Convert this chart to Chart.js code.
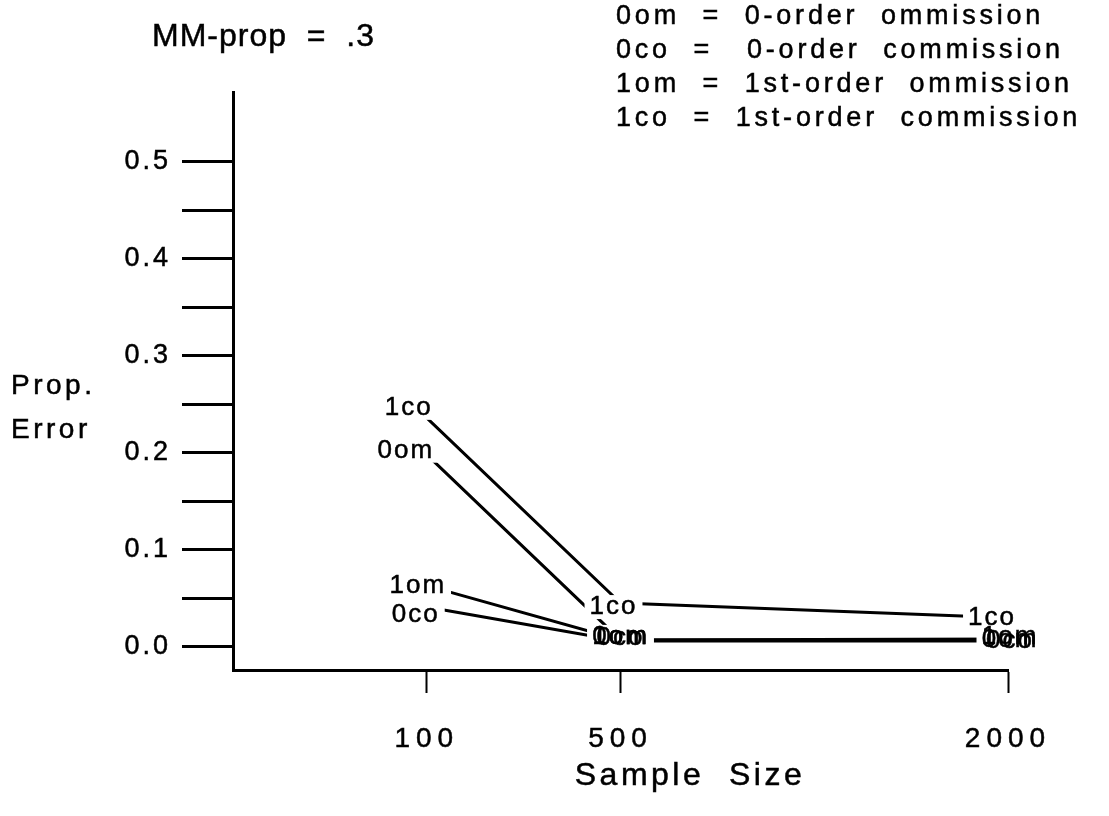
<!DOCTYPE html>
<html><head><meta charset="utf-8">
<script src="https://cdn.jsdelivr.net/npm/chart.js@4.4.1/dist/chart.umd.min.js"></script>
<style>html,body{margin:0;padding:0;background:#fff}#wrap{width:1109px;height:816px;position:relative}</style>
</head><body><div id="wrap"><canvas id="c" width="1109" height="816"></canvas></div>
<script>
// ---- data ----
const sampleSizes = ['', '100', '500', '', '2000'];
const seriesNames = ['0om', '0co', '1om', '1co'];
const err0om = [null, 0.198, 0.007, null, 0.007];
const err0co = [null, 0.041, 0.006, null, 0.006];
const err1om = [null, 0.063, 0.007, null, 0.008];
const err1co = [null, 0.236, 0.045, null, 0.030];
const yTickValues = [0, 0.05, 0.1, 0.15, 0.2, 0.25, 0.3, 0.35, 0.4, 0.45, 0.5];
const titleText = 'MM-prop  =  .3';
const keyLines = [
  '0om  =  0-order  ommission',
  '0co  =   0-order  commission',
  '1om  =  1st-order  ommission',
  '1co  =  1st-order  commission'
];
const yTitleLines = ['Prop.', 'Error'];
const xTitleText = 'Sample  Size';

const FONT = "'Liberation Sans', Arial, Helvetica, sans-serif";
const seriesData = [err0om, err0co, err1om, err1co];
// label nudges (style only, px): [dx, dy] per "series@slot"
const labelNudge = {
  '1co@1': [-18, -10], '0om@1': [-21, -4], '1om@1': [-9, 0], '0co@1': [-11, 8],
  '1co@2': [-7, 4], '0om@2': [0, -3], '0co@2': [0, -3], '1om@2': [0, -3],
  '1co@4': [-16, 0], '0om@4': [2, 0], '0co@4': [2, 0], '1om@4': [2, -2]
};

function drawText(ctx, t, x, y) {
  ctx.strokeText(t, x, y);
  ctx.fillText(t, x, y);
}

const textPlugin = {
  id: 'textPlugin',
  beforeDraw(chart) {
    const patch = (scale, sp) => {
      if (!scale || scale._lsPatched) return;
      const orig = scale.drawLabels;
      scale.drawLabels = function (a) {
        const c = this.ctx; const prev = c.letterSpacing;
        c.letterSpacing = sp; orig.call(this, a); c.letterSpacing = prev || '0px';
      };
      scale._lsPatched = true;
    };
    patch(chart.scales.x, '6px');
    patch(chart.scales.y, '3px');
  },
  afterDatasetsDraw(chart) {
    const ctx = chart.ctx;
    ctx.save();
    ctx.font = '26px ' + FONT;
    ctx.letterSpacing = '2px';
    ctx.textAlign = 'center';
    ctx.textBaseline = 'middle';
    ctx.strokeStyle = '#000';
    ctx.lineWidth = 0.5;
    const items = [];
    chart.data.datasets.forEach((ds, di) => {
      const meta = chart.getDatasetMeta(di);
      meta.data.forEach((pt, i) => {
        if (ds.data[i] == null) return;
        const n = labelNudge[ds.label + '@' + i] || [0, 0];
        items.push({ x: pt.x + n[0], y: pt.y + n[1], t: ds.label });
      });
    });
    ctx.fillStyle = '#fff';
    items.forEach(it => {
      const w = ctx.measureText(it.t).width;
      ctx.fillRect(it.x - w / 2 - 5, it.y - 12, w + 10, 24);
    });
    ctx.fillStyle = '#000';
    items.forEach(it => drawText(ctx, it.t, it.x, it.y));
    ctx.restore();
  },
  afterDraw(chart) {
    const ctx = chart.ctx;
    ctx.save();
    ctx.fillStyle = '#000';
    ctx.strokeStyle = '#000';
    ctx.lineWidth = 0.5;
    ctx.textBaseline = 'middle';
    ctx.textAlign = 'left';
    ctx.font = '32px ' + FONT;
    ctx.letterSpacing = '1px';
    drawText(ctx, titleText, 152, 37);
    ctx.font = '27px ' + FONT;
    ctx.letterSpacing = '3.8px';
    keyLines.forEach((l, i) => drawText(ctx, l, 616, 17 + i * 34));
    ctx.font = '28px ' + FONT;
    ctx.letterSpacing = '3.5px';
    drawText(ctx, yTitleLines[0], 11, 386);
    drawText(ctx, yTitleLines[1], 11, 430);
    ctx.font = '32px ' + FONT;
    ctx.letterSpacing = '3.5px';
    ctx.textAlign = 'center';
    drawText(ctx, xTitleText, 690, 776);
    ctx.restore();
  }
};

new Chart(document.getElementById('c'), {
  type: 'line',
  data: {
    labels: sampleSizes,
    datasets: seriesNames.map((n, i) => ({
      label: n,
      data: seriesData[i],
      borderColor: '#000',
      borderWidth: 3,
      pointRadius: 0,
      spanGaps: true,
      fill: false,
      tension: 0
    }))
  },
  options: {
    responsive: false,
    animation: false,
    layout: { padding: { top: 92, right: 101, left: 0, bottom: 0 } },
    plugins: { legend: { display: false }, tooltip: { enabled: false }, title: { display: false } },
    scales: {
      x: {
        type: 'category',
        offset: false,
        afterBuildTicks: (s) => { s.ticks = s.ticks.filter(t => sampleSizes[t.value] !== ''); },
        afterFit: (s) => { s.height = 146; },
        grid: { drawOnChartArea: false, drawTicks: true, tickLength: 23, tickWidth: 2, tickColor: '#000', offset: false },
        border: { display: true, color: '#000', width: 3 },
        ticks: { autoSkip: false, maxRotation: 0, padding: 29, color: '#000', textStrokeColor: '#000', textStrokeWidth: 0.5, font: { family: FONT, size: 28 } }
      },
      y: {
        type: 'linear',
        min: -0.024,
        max: 0.572,
        afterBuildTicks: (s) => { s.ticks = yTickValues.map(v => ({ value: v })); },
        afterFit: (s) => { s.width = 233; },
        grid: { drawOnChartArea: false, drawTicks: true, tickLength: 51, tickWidth: 3, tickColor: '#000' },
        border: { display: true, color: '#000', width: 3 },
        ticks: {
          padding: 11, color: '#000', textStrokeColor: '#000', textStrokeWidth: 0.5, font: { family: FONT, size: 27 },
          callback: (v) => (Math.abs(v * 10 - Math.round(v * 10)) < 1e-6 ? v.toFixed(1) : '')
        }
      }
    }
  },
  plugins: [textPlugin]
});
</script>
</body></html>
